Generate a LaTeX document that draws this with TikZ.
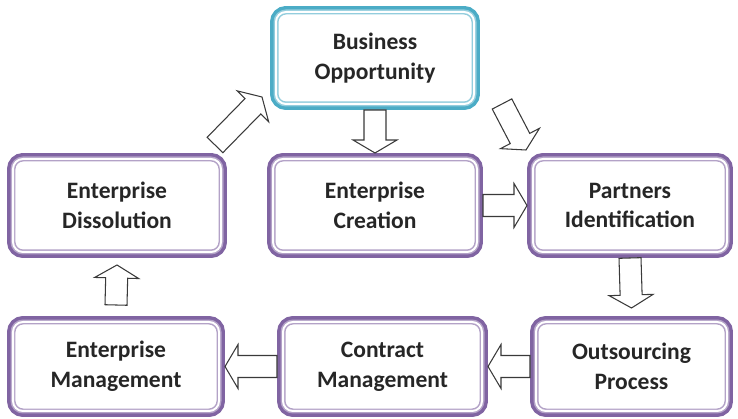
\documentclass[tikz,border=0pt]{standalone}
\usepackage{fontspec}
\setmainfont{Carlito}
\definecolor{StagePurple}{HTML}{8064A2}
\definecolor{StageTeal}{HTML}{4BACC6}
\definecolor{StageText}{HTML}{262626}
\definecolor{ArrowGray}{HTML}{3A3A3A}
\usetikzlibrary{calc}

% block arrow from #1 (tail) to #2 (tip)
\newcommand{\blockarrow}[2]{%
  \draw[blockarr]
    ($(#1)!0.22cm!90:(#2)$)
    -- ($(#2)!0.26cm!(#1)!0.22cm!-90:(#1)$)
    -- ($(#2)!0.26cm!(#1)!0.44cm!-90:(#1)$)
    -- (#2)
    -- ($(#2)!0.26cm!(#1)!0.44cm!90:(#1)$)
    -- ($(#2)!0.26cm!(#1)!0.22cm!90:(#1)$)
    -- ($(#1)!0.22cm!-90:(#2)$) -- cycle;}

\tikzset{
  stage/.style={rectangle, rounded corners=0.2cm, fill=white, align=center,
    text=StageText, font=\bfseries\fontsize{13.4}{17}\selectfont,
    minimum width=4.0cm, minimum height=1.84cm, inner sep=0pt, outer sep=0.12cm,
    draw=#1!60!white, line width=0.85pt, double=white, double distance=1.14pt,
    preaction={draw=#1, line width=6.8pt}},
  stage/.default=StagePurple,
  blockarr/.style={fill=white, draw=ArrowGray, line width=0.6pt, line join=miter},
}

\begin{document}
\begin{tikzpicture}
  \useasboundingbox (0,0) rectangle (14.76,8.38);
  % Top
  \node[stage=StageTeal, minimum width=3.96cm] (bus) at (7.50,7.22) {Business\\Opportunity};
  % Middle row
  \node[stage, minimum width=4.16cm, minimum height=1.86cm] (dis) at (2.34,4.27) {Enterprise\\Dissolution};
  \node[stage, minimum width=4.08cm, minimum height=1.86cm] (cre) at (7.50,4.27) {Enterprise\\Creation};
  \node[stage, minimum width=3.88cm, minimum height=1.86cm] (par) at (12.60,4.27) {Partners\\Identification};
  % Bottom row
  \node[stage, minimum width=4.12cm, minimum height=1.78cm] (man) at (2.32,1.05) {Enterprise\\Management};
  \node[stage, minimum width=3.98cm, minimum height=1.78cm] (con) at (7.65,1.05) {Contract\\Management};
  \node[stage, minimum width=3.82cm, minimum height=1.78cm] (out) at (12.63,1.05) {Outsourcing\\Process};

  % free ends of the arrows
  \coordinate (outtop) at ($(out.north)+(0,0.16)$);
  \coordinate (mantop) at ($(man.north)+(0,0.22)$);
  \coordinate (disbot) at ($(dis.south)+(0,-0.14)$);
  \coordinate (distail) at ($(dis.north east)+(-0.24,0.16)$);
  \coordinate (bustip) at ($(bus.south west)+(-0.16,0.26)$);
  \coordinate (bustail) at ($(bus.south east)+(0.44,0.12)$);
  \coordinate (partip) at ($(par.north west)+(-0.02,0.06)$);

  % Arrows
  \blockarrow{bus.south}{cre.north}
  \blockarrow{cre.east}{par.west}
  \blockarrow{par.south}{outtop}
  \blockarrow{out.west}{con.east}
  \blockarrow{con.west}{man.east}
  \blockarrow{mantop}{disbot}
  \blockarrow{distail}{bustip}
  \blockarrow{bustail}{partip}
\end{tikzpicture}
\end{document}
